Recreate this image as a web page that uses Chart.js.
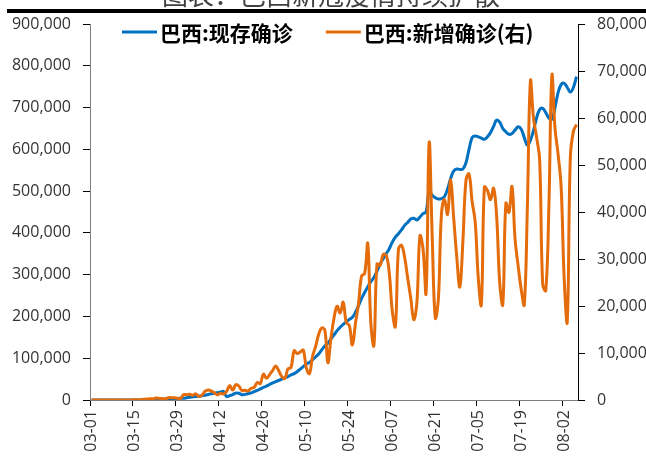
<!DOCTYPE html>
<html>
<head>
<meta charset="utf-8">
<script src="https://cdn.jsdelivr.net/npm/chart.js@4/dist/chart.umd.min.js"></script>
<style>
  html, body { margin: 0; padding: 0; background: #ffffff; }
  #wrap { width: 646px; height: 465px; position: relative; }
</style>
</head>
<body>
<div id="wrap"><canvas id="c" width="646" height="465"></canvas></div>
<script>
// Daily dates from 2020-03-01 to 2020-08-06, shown as MM-DD
const firstDay = '2020-03-01';
const dayCount = 159;
const dates = [];
for (let i = 0; i < dayCount; i++) {
  const d = new Date(firstDay + 'T00:00:00Z');
  d.setUTCDate(d.getUTCDate() + i);
  dates.push(String(d.getUTCMonth() + 1).padStart(2, '0') + '-' + String(d.getUTCDate()).padStart(2, '0'));
}

const titleText = '图表：巴西新冠疫情持续扩散';
const seriesNames = ['巴西:现存确诊', '巴西:新增确诊(右)'];

// Active cases (left axis)
const activeCases = [
  2, 2, 2, 3, 4, 8, 13, 19, 25, 25,
  34, 52, 77, 98, 121, 200, 234, 291, 428, 615,
  895, 1115, 1525, 1860, 2150, 2370, 2830, 3300, 3760, 4080,
  4380, 5400, 6400, 7500, 8600, 9200, 10000, 11500, 13300, 14900,
  16100, 17500, 19000, 20300, 8500, 10500, 13000, 16500, 16000, 12500,
  13500, 15000, 17000, 20000, 23000, 26500, 30000, 33000, 37000, 41000,
  44000, 47000, 50000, 53000, 56000, 60000, 63000, 68000, 74000, 80000,
  86000, 90000, 96000, 103000, 110000, 120000, 129000, 136000, 146000, 156000,
  166000, 174000, 181000, 187000, 193000, 198000, 210000, 226000, 243000, 258000,
  271000, 283000, 293000, 308000, 325000, 338000, 350000, 362000, 378000, 390000,
  398000, 407000, 418000, 425000, 433000, 435000, 431000, 438000, 446000, 450000,
  500000, 490000, 484000, 481000, 482000, 487000, 505000, 530000, 548000, 553000,
  552000, 553000, 568000, 600000, 628000, 632000, 630000, 627000, 624000, 630000,
  640000, 655000, 670000, 665000, 650000, 642000, 636000, 638000, 646000, 654000,
  648000, 628000, 610000, 622000, 645000, 675000, 695000, 698000, 688000, 675000,
  672000, 700000, 735000, 755000, 758000, 748000, 737000, 748000, 774000
];

// Daily new cases (right axis)
const newCases = [
  0, 0, 0, 1, 4, 5, 6, 6, 0, 9,
  18, 25, 21, 23, 79, 34, 57, 137, 193, 283,
  224, 418, 345, 310, 232, 482, 502, 487, 352, 323,
  1138, 1119, 1208, 1012, 1304, 770, 1031, 1873, 2136, 1922,
  1546, 1089, 1442, 1261, 1832, 3058, 2105, 3257, 2976, 1996,
  2089, 1927, 2498, 2678, 3735, 3503, 5514, 4613, 5385, 6276,
  7218, 6209, 4970, 4588, 6633, 6935, 10503, 9888, 10222, 10611,
  6760, 5632, 9258, 11385, 13944, 15305, 14919, 7938, 13140, 17408,
  19951, 18508, 20803, 16508, 15813, 11687, 16324, 20599, 26417, 26928,
  33274, 16409, 11598, 28936, 28633, 30925, 30830, 27075, 18912, 15654,
  32091, 32913, 30412, 25982, 21704, 17110, 20647, 34918, 32188, 22765,
  54771, 34666, 17459, 21432, 39436, 42725, 39483, 46860, 38693, 30476,
  24052, 33846, 46712, 48105, 42223, 37923, 26051, 20229, 45305, 44571,
  42619, 45048, 39023, 24831, 20286, 41857, 39924, 45403, 34177, 28532,
  23529, 20257, 41008, 67860, 59961, 55891, 51147, 24578, 23284, 40816,
  69074, 57837, 52383, 45392, 25800, 16641, 51603, 57152, 58600
];

const leftTicks = { min: 0, max: 900000, step: 100000 };
const rightTicks = { min: 0, max: 80000, step: 10000 };
const labelEvery = 14;

const BLUE = '#0070C0';
const ORANGE = '#E46C0A';
const TICK_FONT = { family: '"Open Sans", "Liberation Sans", sans-serif', size: 16 };
const fmt = v => Number(v).toLocaleString('en-US');

// Cropped heading and the heavy rule under it
const headingPlugin = {
  id: 'heading',
  beforeDraw(chart) {
    const ctx = chart.ctx;
    ctx.save();
    ctx.fillStyle = '#ffffff';
    ctx.fillRect(0, 0, chart.width, chart.height);
    ctx.font = '26px "Noto Sans CJK SC"';
    ctx.fillStyle = '#404040';
    ctx.textAlign = 'center';
    ctx.textBaseline = 'alphabetic';
    ctx.fillText(titleText, 331, 5);
    ctx.fillStyle = '#000000';
    ctx.fillRect(7, 9, chart.width - 7, 4);
    ctx.restore();
  }
};

// Legend drawn inside the plot, along its top edge
const insideLegend = {
  id: 'insideLegend',
  afterDatasetsDraw(chart) {
    const ctx = chart.ctx;
    const area = chart.chartArea;
    let x = area.left + 32;
    const y = area.top + 8;
    ctx.save();
    ctx.font = 'bold 21px "Noto Sans CJK SC"';
    ctx.textBaseline = 'middle';
    ctx.textAlign = 'left';
    const order = [0, 1];
    order.forEach((i, k) => {
      const ds = chart.data.datasets[i];
      ctx.strokeStyle = ds.borderColor;
      ctx.lineWidth = 3;
      ctx.beginPath();
      ctx.moveTo(x, y);
      ctx.lineTo(x + 35, y);
      ctx.stroke();
      x += 38;
      ctx.fillStyle = '#000000';
      ctx.fillText(ds.label, x, y + 1);
      x += ctx.measureText(ds.label).width + 33;
    });
    ctx.restore();
  }
};

new Chart(document.getElementById('c'), {
  type: 'line',
  data: {
    labels: dates,
    datasets: [
      {
        label: seriesNames[0],
        data: activeCases,
        yAxisID: 'yLeft',
        borderColor: BLUE,
        backgroundColor: BLUE,
        borderWidth: 3,
        pointRadius: 0,
        tension: 0.4,
        order: 1
      },
      {
        label: seriesNames[1],
        data: newCases,
        yAxisID: 'yRight',
        borderColor: ORANGE,
        backgroundColor: ORANGE,
        borderWidth: 3,
        pointRadius: 0,
        tension: 0.4,
        order: 0
      }
    ]
  },
  options: {
    responsive: false,
    animation: false,
    devicePixelRatio: 1,
    layout: { padding: { top: 24, left: 0, right: 0, bottom: 0 } },
    plugins: {
      legend: { display: false },
      tooltip: { enabled: false },
      title: { display: false }
    },
    scales: {
      x: {
        type: 'category',
        offset: true,
        afterFit(scale) { scale.height = 65; },
        grid: {
          offset: true,
          drawOnChartArea: false,
          drawTicks: true,
          tickLength: 6,
          tickWidth: 1,
          tickColor: ctx => (ctx.index % labelEvery === 0 ? '#000000' : 'rgba(0,0,0,0)')
        },
        border: { display: true, color: '#7f7f7f', width: 1 },
        ticks: {
          autoSkip: false,
          minRotation: 90,
          maxRotation: 90,
          padding: 4,
          color: '#333333',
          font: TICK_FONT,
          callback(value, index) {
            return index % labelEvery === 0 ? this.getLabelForValue(value) : '';
          }
        }
      },
      yLeft: {
        type: 'linear',
        position: 'left',
        min: leftTicks.min,
        max: leftTicks.max,
        afterFit(scale) { scale.width = 90; },
        grid: { drawOnChartArea: false, drawTicks: true, tickLength: 7, tickColor: '#000000' },
        border: { display: true, color: '#7f7f7f', width: 1 },
        ticks: {
          stepSize: leftTicks.step,
          padding: 12,
          color: '#333333',
          font: TICK_FONT,
          callback: v => fmt(v)
        }
      },
      yRight: {
        type: 'linear',
        position: 'right',
        min: rightTicks.min,
        max: rightTicks.max,
        afterFit(scale) { scale.width = 68; },
        grid: { drawOnChartArea: false, drawTicks: true, tickLength: 7, tickColor: '#000000' },
        border: { display: true, color: '#000000', width: 1 },
        ticks: {
          stepSize: rightTicks.step,
          padding: 12,
          color: '#333333',
          font: TICK_FONT,
          callback: v => fmt(v)
        }
      }
    }
  },
  plugins: [headingPlugin, insideLegend]
});
</script>
</body>
</html>
